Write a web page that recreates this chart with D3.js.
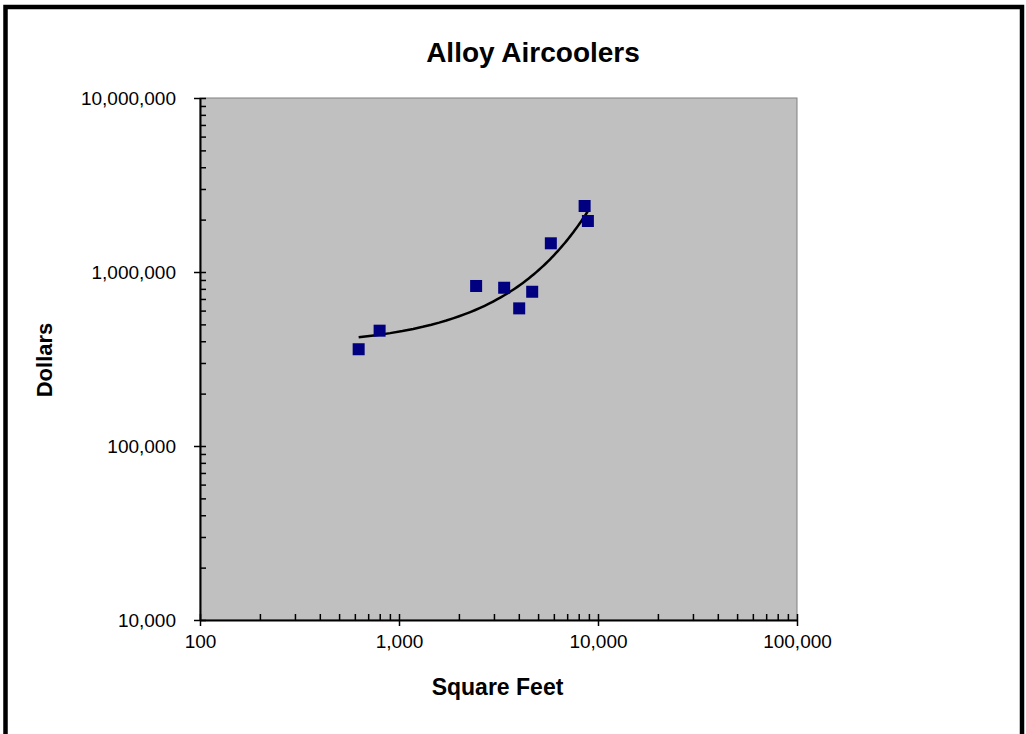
<!DOCTYPE html>
<html>
<head>
<meta charset="utf-8">
<script src="https://cdn.jsdelivr.net/npm/d3@7"></script>
<style>
  body { margin: 0; background: #fff; }
  text { font-family: Arial, "Liberation Sans", sans-serif; }
</style>
</head>
<body>
<script>
// Chart size and plot box
const width = 1026, height = 734;
const plot = {left: 200, right: 797, top: 98, bottom: 620};

// Data
const sqFeet  = [627, 799, 2441, 3377, 4018, 4670, 5794, 8566, 8896];
const dollars = [359800, 460000, 831000, 812000, 618000, 770000, 1462000, 2395000, 1964000];

// Axis tick labels
const xTicks = [100, 1000, 10000, 100000];
const yTicks = [10000, 100000, 1000000, 10000000];

const points = sqFeet.map((s, i) => ({x: s, y: dollars[i]}));

const svg = d3.select("body")
      .append("svg")
      .attr("width", width)
      .attr("height", height);

// Outer frame (bottom edge runs off the picture)
svg.append("rect")
    .attr("x", 5.5).attr("y", 7)
    .attr("width", 1016.5).attr("height", 800)
    .attr("fill", "none")
    .attr("stroke", "#000")
    .attr("stroke-width", 4.5);

const x = d3.scaleLog().domain([100, 100000]).range([plot.left, plot.right]);
const y = d3.scaleLog().domain([10000, 10000000]).range([plot.bottom, plot.top]);

// Minor ticks: every 1..9 of each decade
const minorOf = ticks => ticks.slice(0, -1)
      .flatMap(t => d3.range(1, 10).map(k => t * k)).concat(ticks.slice(-1));

// Plot area
svg.append("rect")
    .attr("x", plot.left).attr("y", plot.top)
    .attr("width", plot.right - plot.left)
    .attr("height", plot.bottom - plot.top)
    .attr("fill", "#c0c0c0")
    .attr("stroke", "#808080")
    .attr("stroke-width", 1);

// Inside ticks (minor + major)
svg.append("g")
    .attr("transform", `translate(0,${plot.bottom})`)
    .call(d3.axisTop(x).tickValues(minorOf(xTicks)).tickSize(6).tickSizeOuter(0).tickFormat(""))
    .call(g => g.select(".domain").remove())
    .selectAll("line").attr("stroke", "#000").attr("stroke-width", 1.5);

svg.append("g")
    .attr("transform", `translate(${plot.left},0)`)
    .call(d3.axisRight(y).tickValues(minorOf(yTicks)).tickSize(6).tickSizeOuter(0).tickFormat(""))
    .call(g => g.select(".domain").remove())
    .selectAll("line").attr("stroke", "#000").attr("stroke-width", 1.5);

// Main axes with outside major ticks and labels
const xAxis = svg.append("g")
    .attr("transform", `translate(0,${plot.bottom})`)
    .call(d3.axisBottom(x).tickValues(xTicks).tickSize(6).tickSizeOuter(0)
          .tickPadding(9).tickFormat(d3.format(",")));

const yAxis = svg.append("g")
    .attr("transform", `translate(${plot.left},0)`)
    .call(d3.axisLeft(y).tickValues(yTicks).tickSize(6).tickSizeOuter(0)
          .tickPadding(18).tickFormat(d3.format(",")));

[xAxis, yAxis].forEach(a => {
    a.select(".domain").attr("stroke", "#000").attr("stroke-width", 2);
    a.selectAll(".tick line").attr("stroke", "#000").attr("stroke-width", 1.5);
    a.selectAll("text")
        .attr("fill", "#000")
        .style("font-size", "19px")
        .style("font-family", "Arial, 'Liberation Sans', sans-serif");
});

// Exponential trendline fitted to the points (like the spreadsheet's trendline)
const mx = d3.mean(points, d => d.x);
const my = d3.mean(points, d => Math.log(d.y));
const b = d3.sum(points, d => (d.x - mx) * (Math.log(d.y) - my)) /
          d3.sum(points, d => (d.x - mx) ** 2);
const a = my - b * mx;
const [x0, x1] = d3.extent(sqFeet);
const trend = d3.range(0, 61).map(i => {
    const xv = x0 + (x1 - x0) * i / 60;
    return {x: xv, y: Math.exp(a + b * xv)};
});

svg.append("path")
    .datum(trend)
    .attr("fill", "none")
    .attr("stroke", "#000")
    .attr("stroke-width", 2.5)
    .attr("d", d3.line().x(d => x(d.x)).y(d => y(d.y)));

// Markers
const ms = 12;
svg.append("g")
    .selectAll("rect")
    .data(points)
    .enter().append("rect")
    .attr("x", d => x(d.x) - ms / 2)
    .attr("y", d => y(d.y) - ms / 2)
    .attr("width", ms)
    .attr("height", ms)
    .attr("fill", "#000080");

// Titles
svg.append("text")
    .attr("x", 533).attr("y", 62)
    .attr("text-anchor", "middle")
    .style("font-size", "28px").style("font-weight", "bold")
    .text("Alloy Aircoolers");

svg.append("text")
    .attr("x", 497.5).attr("y", 695)
    .attr("text-anchor", "middle")
    .style("font-size", "23px").style("font-weight", "bold")
    .text("Square Feet");

svg.append("text")
    .attr("transform", "translate(52,360) rotate(-90)")
    .attr("text-anchor", "middle")
    .style("font-size", "22px").style("font-weight", "bold")
    .text("Dollars");
</script>
</body>
</html>
